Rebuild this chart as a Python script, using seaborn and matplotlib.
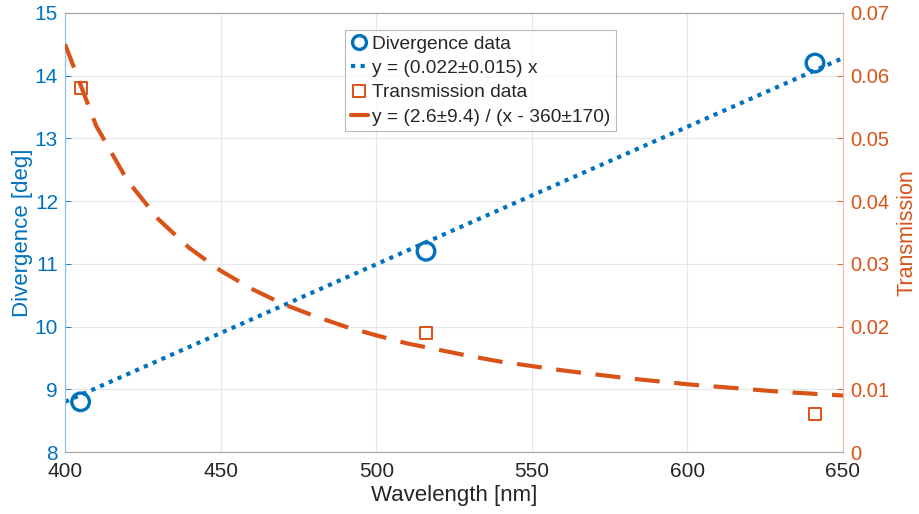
import matplotlib
matplotlib.use("Agg")
import matplotlib.pyplot as plt
import seaborn as sns
import pandas as pd
from matplotlib.lines import Line2D

# data
wavelength = [405, 516, 641]
divergence = [8.8, 11.2, 14.2]
transmission = [0.058, 0.019, 0.006]

div_fit_x = [400, 650]
div_fit_y = [8.8, 14.28]

trans_fit_x = [400, 410, 420, 430, 440, 450, 460, 470, 480, 490, 500, 510, 520,
               530, 540, 550, 560, 570, 580, 590, 600, 610, 620, 630, 640, 650]
trans_fit_y = [0.0650, 0.0520, 0.0433, 0.0371, 0.0325, 0.0289, 0.0260, 0.0236,
               0.0217, 0.0200, 0.0186, 0.0173, 0.0163, 0.0153, 0.0144, 0.0137,
               0.0130, 0.0124, 0.0118, 0.0113, 0.0108, 0.0104, 0.0100, 0.0096,
               0.0093, 0.0090]

labels = ["Divergence data", "y = (0.022\u00b10.015) x", "Transmission data",
          "y = (2.6\u00b19.4) / (x - 360\u00b1170)"]

BLUE = "#0072BD"
ORANGE = "#D95319"
DARK = "#262626"

sns.set_theme(style="white")
plt.rcParams["font.family"] = ["Liberation Sans", "DejaVu Sans"]

fig = plt.figure(figsize=(9.2, 5.14), dpi=100)
ax = fig.add_axes([0.0707, 0.1206, 0.9163 - 0.0707, 0.975 - 0.1206])
ax2 = ax.twinx()

d1 = pd.DataFrame({"x": wavelength, "y": divergence})
d2 = pd.DataFrame({"x": div_fit_x, "y": div_fit_y})
t1 = pd.DataFrame({"x": wavelength, "y": transmission})
t2 = pd.DataFrame({"x": trans_fit_x, "y": trans_fit_y})

sns.lineplot(data=d2, x="x", y="y", ax=ax, color=BLUE, lw=3, linestyle=(0, (1, 1.3)), zorder=3)
sns.scatterplot(data=d1, x="x", y="y", ax=ax, s=160, marker="o", facecolor="none",
                edgecolor=BLUE, linewidth=2.4, zorder=4)
sns.lineplot(data=t2, x="x", y="y", ax=ax2, color=ORANGE, lw=3, linestyle=(0, (6, 3.5)), zorder=3)
sns.scatterplot(data=t1, x="x", y="y", ax=ax2, s=75, marker="s", facecolor="none",
                edgecolor=ORANGE, linewidth=1.4, zorder=4)

ax.set_xlim(400, 650)
ax.set_ylim(8, 15)
ax2.set_ylim(0, 0.07)
ax.set_xticks([400, 450, 500, 550, 600, 650])
ax.set_yticks(range(8, 16))
ax2.set_yticks([0, 0.01, 0.02, 0.03, 0.04, 0.05, 0.06, 0.07])
ax2.set_yticklabels(["0", "0.01", "0.02", "0.03", "0.04", "0.05", "0.06", "0.07"])

ax.grid(True, color="#e6e6e6", lw=0.8)
ax.set_axisbelow(True)

ax.set_xlabel("Wavelength [nm]", fontsize=16, color=DARK, labelpad=3)
ax.set_ylabel("Divergence [deg]", fontsize=16, color=BLUE, labelpad=1)
ax2.set_ylabel("Transmission", fontsize=15.5, color=ORANGE, labelpad=5)

ax.tick_params(axis="x", colors=DARK, labelsize=15, direction="in", length=4, width=0.6, pad=7)
ax.tick_params(axis="y", colors=BLUE, labelsize=15, direction="in", length=4, width=0.6, pad=5)
ax2.tick_params(axis="y", colors=ORANGE, labelsize=14.5, direction="in", length=4, width=0.6, pad=5)
for lab in ax.get_xticklabels():
    lab.set_color(DARK)

for a in (ax, ax2):
    for s in a.spines.values():
        s.set_linewidth(0.8)
    a.spines["top"].set_color("#a6a6a6")
    a.spines["bottom"].set_color("#a6a6a6")
ax2.spines["left"].set_color("#8fc1e6")
ax2.spines["right"].set_color("#f0b8a0")
ax.spines["left"].set_color("#8fc1e6")
ax.spines["right"].set_visible(False)

handles = [
    Line2D([], [], marker="o", linestyle="none", markerfacecolor="none",
           markeredgecolor=BLUE, markeredgewidth=2.4, markersize=10),
    Line2D([], [], color=BLUE, lw=3, linestyle=(0, (1, 1.3))),
    Line2D([], [], marker="s", linestyle="none", markerfacecolor="none",
           markeredgecolor=ORANGE, markeredgewidth=1.4, markersize=8),
    Line2D([], [], color=ORANGE, lw=3, linestyle="-"),
]
leg = ax2.legend(handles, labels, loc="upper left", bbox_to_anchor=(0.360, 0.962),
                 fontsize=13.8, frameon=True, fancybox=False, handlelength=0.9,
                 handletextpad=0.2, borderpad=0.3, labelspacing=0.36, borderaxespad=0)
leg.get_frame().set_edgecolor("#a6a6a6")
leg.get_frame().set_linewidth(0.8)
for t in leg.get_texts():
    t.set_color(DARK)

fig.savefig("out.png", dpi=100)
